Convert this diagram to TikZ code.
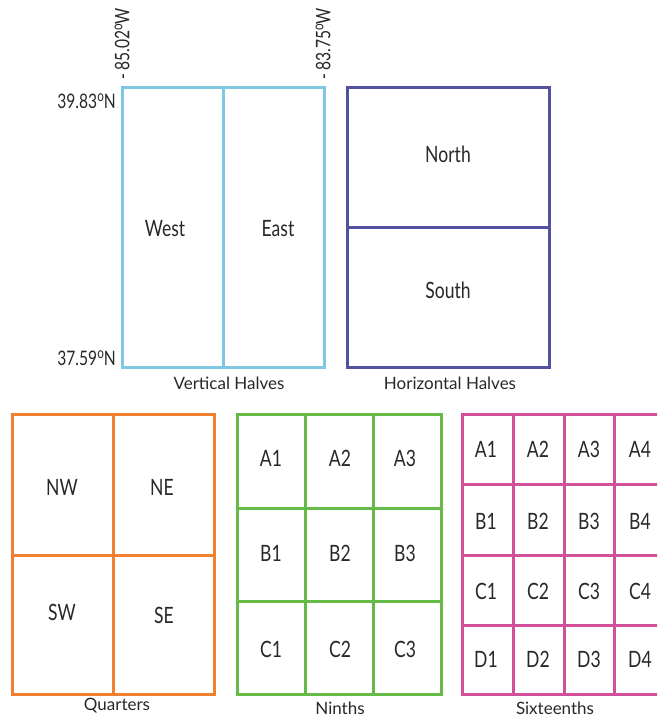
\documentclass[tikz,border=0pt]{standalone}
\usepackage{fontspec}
\setmainfont{Lato}
\newfontfamily\condfont[FakeStretch=0.78]{Lato}
\usepackage{tikz}

\definecolor{vhblue}{RGB}{126,200,227}
\definecolor{hhblue}{RGB}{82,82,160}
\definecolor{qorange}{RGB}{240,128,48}
\definecolor{ngreen}{RGB}{102,186,72}
\definecolor{smagenta}{RGB}{210,82,154}
\definecolor{txt}{RGB}{40,40,40}

\tikzset{
    grid line/.style={line width=3pt},
    cell/.style={font=\condfont\fontsize{22.5}{22.5}\selectfont, text=txt, inner sep=0pt},
    caption/.style={font=\fontsize{17}{17}\selectfont, text=txt, inner sep=0pt},
    coord/.style={font=\condfont\fontsize{20}{20}\selectfont, text=txt, inner sep=0pt}
}
\newcommand{\dg}{\raisebox{0.35em}{\fontsize{15}{15}\selectfont o}}

\begin{document}
\begin{tikzpicture}[x=1pt,y=-1pt]
    \clip (0,0) rectangle (657,717);
    \fill[white] (0,0) rectangle (657,717);
    % vertical halves
    \draw[grid line, vhblue] (122,87) rectangle (324,367) (223,87) -- (223,367);
    \node[cell] (west) at (165,229) {West};
    \node[cell] (east) at (278,229) {East};
    \node[caption] (vcap) at (229,383) {Vertical Halves};
    \node[coord, anchor=east] (north lat) at (116,101) {39.83\dg N};
    \node[coord, anchor=east] (south lat) at (116,358) {37.59\dg N};
    \node[coord, rotate=90, anchor=west] (west lon) at (122,80) {-\,85.02\dg W};
    \node[coord, rotate=90, anchor=west] (east lon) at (323,80) {-\,83.75\dg W};
    % horizontal halves
    \draw[grid line, hhblue] (347,87) rectangle (549,367) (347,227) -- (549,227);
    \node[cell] (north) at (448,154) {North};
    \node[cell] (south) at (448,290) {South};
    \node[caption] (hcap) at (450,383) {Horizontal Halves};
    % quarters
    \draw[grid line, qorange] (12,414) rectangle (214,694)
        (113,414) -- (113,694) (12,555) -- (214,555);
    \node[cell] (nw) at (62,487) {NW};
    \node[cell] (ne) at (162,487) {NE};
    \node[cell] (sw) at (62,612) {SW};
    \node[cell] (se) at (164,615) {SE};
    \node[caption] (qcap) at (117,706) {Quarters};
    % ninths
    \draw[grid line, ngreen] (237,414) rectangle (441,694)
        (305,414) -- (305,694) (373,414) -- (373,694)
        (237,508) -- (441,508) (237,601) -- (441,601);
    \foreach \r/\y in {A/458, B/553, C/649}
        \foreach \c/\x in {1/271, 2/340, 3/405}
            \node[cell] (n\r\c) at (\x,\y) {\r\c};
    \node[caption] (ncap) at (340,708) {Ninths};
    % sixteenths
    \draw[grid line, smagenta] (462,414) rectangle (665,694);
    \foreach \x in {513,564,614}
        \draw[grid line, smagenta] (\x,414) -- (\x,694);
    \foreach \y in {484,555,625}
        \draw[grid line, smagenta] (462,\y) -- (665,\y);
    \foreach \r/\y in {A/449, B/521, C/591, D/659}
        \foreach \c/\x in {1/486, 2/538, 3/589, 4/640}
            \node[cell] (s\r\c) at (\x,\y) {\r\c};
    \node[caption] (scap) at (555,708) {Sixteenths};
\end{tikzpicture}
\end{document}
